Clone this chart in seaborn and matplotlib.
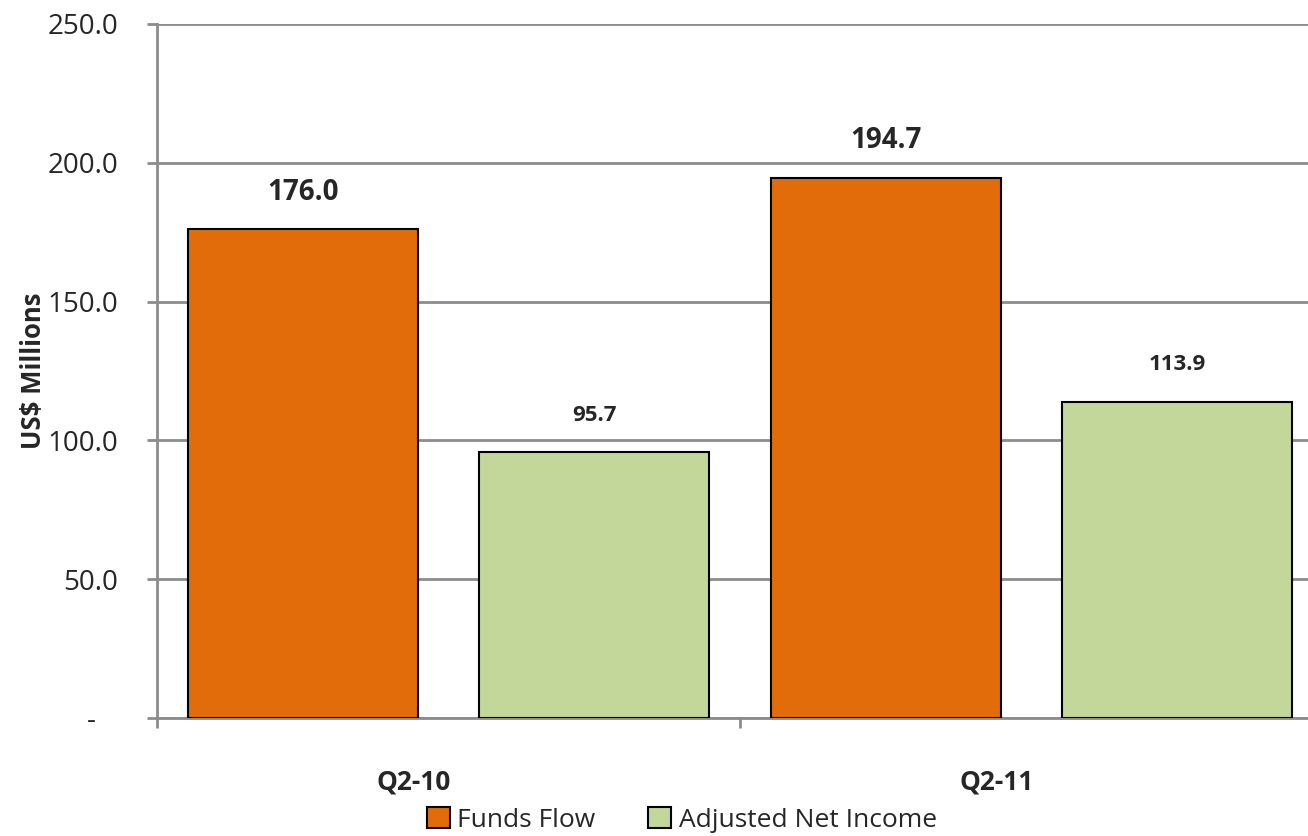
import matplotlib
matplotlib.use("Agg")
import matplotlib.pyplot as plt
import seaborn as sns
import pandas as pd
import numpy as np

quarters = ["Q2-10", "Q2-11"]
series = ["Funds Flow", "Adjusted Net Income"]
funds_flow = [176.0, 194.7]
adj_net_income = [95.7, 113.9]
colors = ["#E36C0A", "#C4D79B"]
yticks = [0, 50, 100, 150, 200, 250]
ytick_labels = ["-   ", "50.0", "100.0", "150.0", "200.0", "250.0"]

sns.set_theme(style="white")
plt.rcParams["font.family"] = ["Open Sans", "DejaVu Sans"]

df = pd.DataFrame({
    "Quarter": quarters * 2,
    "Series": [series[0]] * 2 + [series[1]] * 2,
    "Value": funds_flow + adj_net_income,
})

fig = plt.figure(figsize=(13.08, 8.36), dpi=100)
ax = fig.add_axes([157/1308, 118/836, (1323-157)/1308, (718-24)/836])

sns.barplot(data=df, x="Quarter", y="Value", hue="Series", order=quarters,
            hue_order=series, palette=colors, saturation=1, width=1.0, gap=0.21,
            edgecolor="black", linewidth=1.5, ax=ax, legend=True, zorder=3)

ax.set_ylim(0, 250)
ax.set_xlim(-0.5, 1.5)
ax.set_yticks(yticks)
ax.set_yticklabels(ytick_labels, fontsize=20)
ax.yaxis.grid(True, color="#8c8c8c", linewidth=2, zorder=0)
ax.set_axisbelow(True)

for sp in ["top", "right"]:
    ax.spines[sp].set_visible(False)
for sp in ["left", "bottom"]:
    ax.spines[sp].set_color("#8c8c8c")
    ax.spines[sp].set_linewidth(2)

ax.tick_params(axis="y", which="major", length=7, width=2, color="#8c8c8c",
               direction="out", pad=21, left=True)
ax.set_xticks([-0.06, 0.94])
ax.set_xticklabels(quarters, fontsize=19, fontweight="bold")
ax.tick_params(axis="x", which="major", length=0, pad=36)
ax.set_xticks([-0.5, 0.5, 1.5], minor=True)
ax.tick_params(axis="x", which="minor", length=7, width=2, color="#8c8c8c",
               direction="out", bottom=True)

ax.set_xlabel("")
ax.set_ylabel("US$ Millions", fontsize=18.5, fontweight="bold", labelpad=0)

sizes = [20, 16]
pads = [16, 19]
for cont, fs, pd_ in zip(ax.containers, sizes, pads):
    ax.bar_label(cont, fmt="%.1f", padding=pd_, fontsize=fs, fontweight="bold")

handles, labels = ax.get_legend_handles_labels()
ax.get_legend().remove()
fig.legend(handles, labels, loc="center", bbox_to_anchor=(682/1308, 1 - 820/836),
           ncol=2, frameon=False, fontsize=19, handlelength=0.85, handleheight=0.85,
           handletextpad=0.3, columnspacing=2.0)

fig.savefig("out.png", dpi=100)
